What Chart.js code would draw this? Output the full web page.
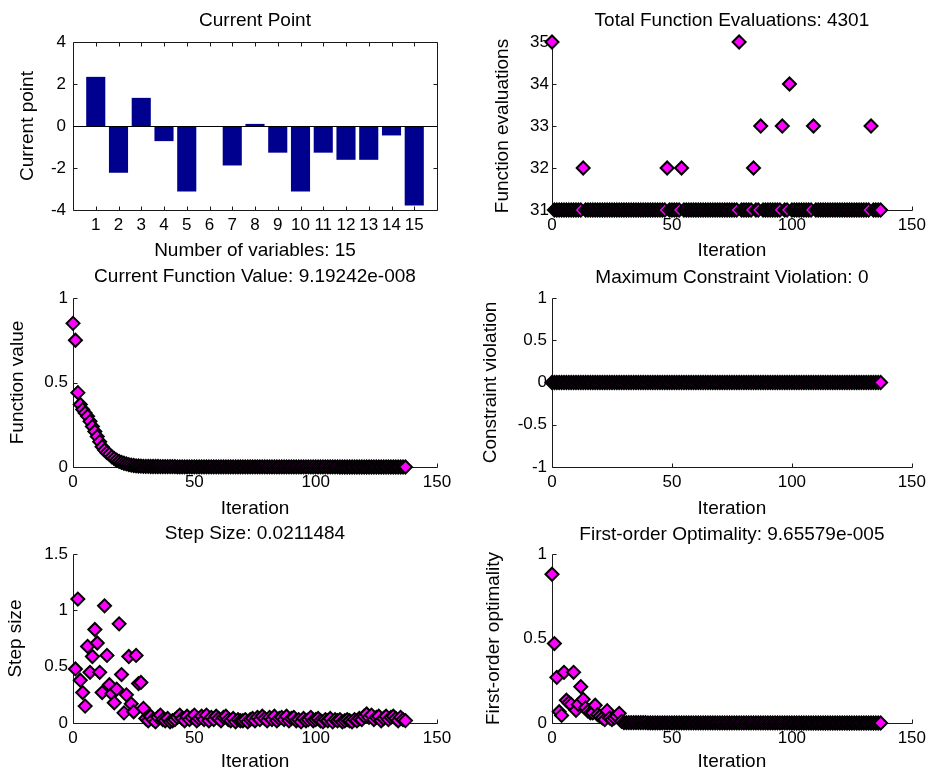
<!DOCTYPE html>
<html><head><meta charset="utf-8">
<script src="https://cdn.jsdelivr.net/npm/chart.js@4.4.1/dist/chart.umd.min.js"></script>
<style>
html,body{margin:0;padding:0;background:#fff;}
#wrap{position:relative;width:931px;height:771px;overflow:hidden;background:#fff;}
#wrap canvas{position:absolute;left:0;top:0;}
</style></head><body><div id="wrap">
<canvas id="c1" width="931" height="771"></canvas>
<canvas id="c2" width="931" height="771"></canvas>
<canvas id="c3" width="931" height="771"></canvas>
<canvas id="c4" width="931" height="771"></canvas>
<canvas id="c5" width="931" height="771"></canvas>
<canvas id="c6" width="931" height="771"></canvas>
</div>
<script>
// ---------------- DATA ----------------
const variableIndex = [1,2,3,4,5,6,7,8,9,10,11,12,13,14,15];
const currentPoint = [2.34,-2.23,1.34,-0.72,-3.12,0,-1.88,0.10,-1.27,-3.12,-1.27,-1.61,-1.61,-0.45,-3.79];

// iterations 0..137
const functionEvaluations = [
 35,31,31,31,31,31,31,31,31,31,
 31,31,31,32,31,31,31,31,31,31,
 31,31,31,31,31,31,31,31,31,31,
 31,31,31,31,31,31,31,31,31,31,
 31,31,31,31,31,31,31,31,32,31,
 31,31,31,31,32,31,31,31,31,31,
 31,31,31,31,31,31,31,31,31,31,
 31,31,31,31,31,31,31,31,35,31,
 31,31,31,31,32,31,31,33,31,31,
 31,31,31,31,31,31,33,31,31,34,
 31,31,31,31,31,31,31,31,31,33,
 31,31,31,31,31,31,31,31,31,31,
 31,31,31,31,31,31,31,31,31,31,
 31,31,31,33,31,31,31,31];

// iterations 0..137
const functionValue = [
 0.85,0.75,0.44,0.37,0.34,0.32,0.30,0.27,0.24,0.21,
 0.18,0.15,0.12,0.10,0.085,0.075,0.06,0.05,0.04,0.033,
 0.027,0.022,0.018,0.014,0.011,0.009,0.007,0.006,0.005,0.004,
 0.004,0.004,0.003,0.003,0.003,0.003,0.002,0.002,0.002,0.002,
 0.002,0.002,0.002,0.001,0.001,0.001,0.001,0.001,0.001,0.001,
 0.001,0.001,0.001,0.001,0.001,0.001,0.001,0.001,0.001,0.001,
 0.001,0.001,0.001,0.001,0.001,0.001,0.001,0.001,0.001,0.001,
 0.001,0.001,0.001,0.001,0.001,0.001,0.001,0.001,0.001,0.001,
 0.0005,0.0005,0.0005,0.0005,0.0005,0.0005,0.0005,0.0005,0.0005,0.0005,
 0.0005,0.0005,0.0005,0.0005,0.0005,0.0005,0.0005,0.0005,0.0005,0.0005,
 0.0005,0.0005,0.0005,0.0005,0.0005,0.0005,0.0005,0.0005,0.0005,0.0005,
 0.0002,0.0002,0.0002,0.0002,0.0002,0.0002,0.0002,0.0002,0.0002,0.0002,
 0.0002,0.0002,0.0002,0.0002,0.0002,0.0002,0.0002,0.0002,0.0002,0.0002,
 0.0001,0.0001,0.0001,0.0001,0.0001,0.0001,0.0001,0.0000000919];

// iterations 0..137
const constraintViolation = [
 0,0,0,0,0,0,0,0,0,0, 0,0,0,0,0,0,0,0,0,0,
 0,0,0,0,0,0,0,0,0,0, 0,0,0,0,0,0,0,0,0,0,
 0,0,0,0,0,0,0,0,0,0, 0,0,0,0,0,0,0,0,0,0,
 0,0,0,0,0,0,0,0,0,0, 0,0,0,0,0,0,0,0,0,0,
 0,0,0,0,0,0,0,0,0,0, 0,0,0,0,0,0,0,0,0,0,
 0,0,0,0,0,0,0,0,0,0, 0,0,0,0,0,0,0,0,0,0,
 0,0,0,0,0,0,0,0,0,0, 0,0,0,0,0,0,0,0];

// iterations 1..137
const stepSize = [
 0.48,1.10,0.38,0.27,0.15,0.68,0.45,0.59,0.83,0.71,
 0.45,0.27,1.04,0.60,0.34,0.26,0.18,0.30,0.88,0.43,
 0.09,0.25,0.59,0.17,0.10,0.60,0.35,0.36,0.13,0.04,
 0.02,0.06,0.03,0.01,0.05,0.07,0.03,0.02,0.04,0.01,
 0.02,0.03,0.05,0.07,0.04,0.02,0.06,0.03,0.05,0.07,
 0.02,0.04,0.06,0.03,0.07,0.02,0.05,0.03,0.06,0.04,
 0.02,0.05,0.06,0.03,0.02,0.04,0.01,0.03,0.02,0.02,
 0.03,0.01,0.03,0.04,0.02,0.05,0.03,0.06,0.04,0.02,
 0.05,0.03,0.06,0.02,0.04,0.05,0.03,0.06,0.02,0.04,
 0.05,0.02,0.03,0.01,0.04,0.02,0.03,0.05,0.02,0.03,
 0.04,0.02,0.01,0.03,0.02,0.04,0.01,0.03,0.02,0.03,
 0.01,0.02,0.03,0.02,0.01,0.03,0.02,0.04,0.03,0.06,
 0.08,0.05,0.07,0.03,0.05,0.06,0.02,0.04,0.06,0.03,
 0.05,0.06,0.04,0.02,0.05,0.03,0.0211484];
const stepSizeFirstIteration = 1;

// iterations 0..137
const firstOrderOptimality = [
 0.88,0.47,0.27,0.067,0.045,0.30,0.135,0.12,0.11,0.30,
 0.075,0.11,0.215,0.14,0.09,0.07,0.06,0.06,0.105,0.05,
 0.04,0.03,0.02,0.073,0.03,0.02,0.03,0.04,0.057,0.01,
 0.002,0.002,0.002,0.002,0.002,0.002,0.002,0.002,0.002,0.002,
 0.001,0.001,0.001,0.001,0.001,0.001,0.001,0.001,0.001,0.001,
 0.001,0.001,0.001,0.001,0.001,0.001,0.001,0.001,0.001,0.001,
 0.001,0.001,0.001,0.001,0.001,0.001,0.001,0.001,0.001,0.001,
 0.0005,0.0005,0.0005,0.0005,0.0005,0.0005,0.0005,0.0005,0.0005,0.0005,
 0.0005,0.0005,0.0005,0.0005,0.0005,0.0005,0.0005,0.0005,0.0005,0.0005,
 0.0005,0.0005,0.0005,0.0005,0.0005,0.0005,0.0005,0.0005,0.0005,0.0005,
 0.0002,0.0002,0.0002,0.0002,0.0002,0.0002,0.0002,0.0002,0.0002,0.0002,
 0.0002,0.0002,0.0002,0.0002,0.0002,0.0002,0.0002,0.0002,0.0002,0.0002,
 0.0002,0.0002,0.0002,0.0002,0.0002,0.0002,0.0002,0.0002,0.0002,0.0002,
 0.0002,0.0002,0.0002,0.0002,0.0002,0.0002,0.0002,0.0000965579];

const titles = ['Current Point','Total Function Evaluations: 4301','Current Function Value: 9.19242e-008',
  'Maximum Constraint Violation: 0','Step Size: 0.0211484','First-order Optimality: 9.65579e-005'];

// ---------------- RENDERING ----------------
const W = 931, H = 771;
Chart.defaults.font.family = "'Liberation Sans', Arial, sans-serif";
Chart.defaults.color = '#000';

const AXIS_COLOR = '#1a1a1a';
const matAxes = {
  id: 'matAxes',
  beforeDatasetsDraw(chart, args, o) {
    const {ctx, chartArea: a} = chart;
    const xs = chart.scales.x, ys = chart.scales.y;
    const L = 4;
    const l = Math.round(a.left) + 0.5, r = Math.round(a.right) + 0.5;
    const t = Math.round(a.top) + 0.5, b = Math.round(a.bottom) + 0.5;
    ctx.save();
    ctx.strokeStyle = AXIS_COLOR; ctx.lineWidth = 1;
    ctx.beginPath();
    ctx.moveTo(l, t); ctx.lineTo(l, b); ctx.lineTo(r, b);
    if (o.box) { ctx.lineTo(r, t); ctx.lineTo(l, t); }
    xs.ticks.forEach(tk => {
      if (tk.label === '') return;
      const p = Math.round(xs.getPixelForValue(tk.value)) + 0.5;
      ctx.moveTo(p, b); ctx.lineTo(p, b - L);
      if (o.box) { ctx.moveTo(p, t); ctx.lineTo(p, t + L); }
    });
    ys.ticks.forEach(tk => {
      const p = Math.round(ys.getPixelForValue(tk.value)) + 0.5;
      ctx.moveTo(l, p); ctx.lineTo(l + L, p);
      if (o.box) { ctx.moveTo(r, p); ctx.lineTo(r - L, p); }
    });
    ctx.stroke();
    ctx.restore();
  },
  afterDatasetsDraw(chart, args, o) {
    if (!o.zeroLine) return;
    const {ctx, chartArea: a} = chart;
    const p = Math.round(chart.scales.y.getPixelForValue(0)) + 0.5;
    ctx.save();
    ctx.strokeStyle = '#000'; ctx.lineWidth = 1;
    ctx.beginPath(); ctx.moveTo(a.left, p); ctx.lineTo(a.right, p); ctx.stroke();
    ctx.restore();
  }
};

const fmt = v => String(Math.round(v * 100) / 100);

function yScale(min, max, step, label, wy, pad) {
  return {
    type: 'linear', position: 'left', min, max,
    ticks: {stepSize: step, padding: pad, font: {size: 17}, color: '#000', callback: fmt},
    grid: {display: false, drawTicks: false, tickLength: 0}, border: {display: false},
    title: {display: true, text: label, color: '#000', font: {size: 19, lineHeight: '18px'}, padding: 0},
    afterFit: s => { s.width = wy; }
  };
}
function xScale(min, max, step, label, hx, cb) {
  return {
    type: 'linear', position: 'bottom', min, max, offset: false,
    ticks: {stepSize: step, padding: 5, font: {size: 17}, color: '#000', autoSkip: false, maxRotation: 0, minRotation: 0,
      callback: cb || fmt},
    grid: {display: false, drawTicks: false, tickLength: 0, offset: false}, border: {display: false},
    title: {display: true, text: label, color: '#000', font: {size: 19, lineHeight: '18px'}, padding: 0},
    afterFit: s => { s.height = hx; }
  };
}
function baseOptions(area, wy, hx, tb, title, xs, ys, axOpts) {
  return {
    responsive: false, animation: false, events: [],
    layout: {padding: {left: area[0] - wy, top: area[1] - 22 - tb, right: W - area[2], bottom: H - area[3] - hx}},
    plugins: {
      legend: {display: false}, tooltip: {enabled: false},
      title: {display: true, text: title, fullSize: false, color: '#000',
        font: {size: 19, weight: 'normal', lineHeight: '22px'}, padding: {top: 0, bottom: tb}},
      matAxes: axOpts
    },
    scales: {x: xs, y: ys}
  };
}
function iterPoints(values, first) {
  return values.map((v, i) => ({x: i + first, y: v}));
}
function scatterDataset(values, first) {
  return {
    data: iterPoints(values, first), showLine: false, clip: false,
    pointStyle: 'rectRot', pointRadius: 6.5, pointBackgroundColor: '#ff00ff',
    pointBorderColor: '#000', pointBorderWidth: 2
  };
}

// 1. Current Point (bar)
new Chart(document.getElementById('c1'), {
  type: 'bar',
  data: {datasets: [{
    data: variableIndex.map((v, i) => ({x: v, y: currentPoint[i]})),
    backgroundColor: '#00008f', borderWidth: 0, categoryPercentage: 1, barPercentage: 0.84
  }]},
  options: baseOptions([73, 42, 437, 210], 54, 50, 10, titles[0],
    xScale(0, 16, 1, 'Number of variables: 15', 50, v => (v >= 1 && v <= 15) ? String(v) : ''),
    yScale(-4, 4, 2, 'Current point', 54, 7), {box: true, zeroLine: true}),
  plugins: [matAxes]
});

// 2. Function evaluations
new Chart(document.getElementById('c2'), {
  type: 'scatter',
  data: {datasets: [scatterDataset(functionEvaluations, 0)]},
  options: baseOptions([552, 42, 916, 210], 58, 50, 10, titles[1],
    xScale(0, 150, 50, 'Iteration', 50),
    yScale(31, 35, 1, 'Function evaluations', 58, 3), {box: false}),
  plugins: [matAxes]
});

// 3. Function value
new Chart(document.getElementById('c3'), {
  type: 'scatter',
  data: {datasets: [scatterDataset(functionValue, 0)]},
  options: baseOptions([73, 298, 437, 467], 64, 51, 10, titles[2],
    xScale(0, 150, 50, 'Iteration', 51),
    yScale(0, 1, 0.5, 'Function value', 64, 5), {box: false}),
  plugins: [matAxes]
});

// 4. Constraint violation
new Chart(document.getElementById('c4'), {
  type: 'scatter',
  data: {datasets: [scatterDataset(constraintViolation, 0)]},
  options: baseOptions([552, 298, 916, 467], 70, 51, 9, titles[3],
    xScale(0, 150, 50, 'Iteration', 51),
    yScale(-1, 1, 0.5, 'Constraint violation', 70, 5), {box: false}),
  plugins: [matAxes]
});

// 5. Step size
new Chart(document.getElementById('c5'), {
  type: 'scatter',
  data: {datasets: [scatterDataset(stepSize, stepSizeFirstIteration)]},
  options: baseOptions([73, 554, 437, 723], 66, 48, 9, titles[4],
    xScale(0, 150, 50, 'Iteration', 48),
    yScale(0, 1.5, 0.5, 'Step size', 66, 5), {box: false}),
  plugins: [matAxes]
});

// 6. First-order optimality
new Chart(document.getElementById('c6'), {
  type: 'scatter',
  data: {datasets: [scatterDataset(firstOrderOptimality, 0)]},
  options: baseOptions([552, 554, 916, 723], 67, 48, 8, titles[5],
    xScale(0, 150, 50, 'Iteration', 48),
    yScale(0, 1, 0.5, 'First-order optimality', 67, 5), {box: false}),
  plugins: [matAxes]
});
</script>
</body></html>
